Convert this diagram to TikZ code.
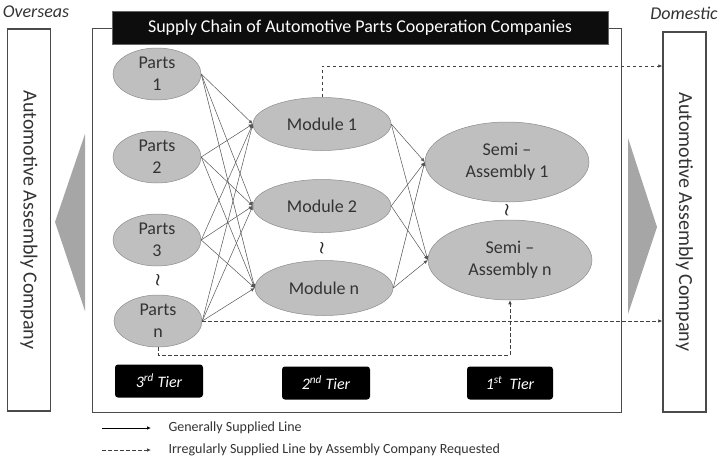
\documentclass[tikz,border=0pt]{standalone}
\usepackage{fontspec}
\setmainfont{Carlito}
\usetikzlibrary{arrows.meta,shapes.geometric,calc}

\definecolor{ellfill}{HTML}{BFBFBF}
\definecolor{elledge}{HTML}{8C8C8C}
\definecolor{wedge}{HTML}{A6A6A6}
\definecolor{feedline}{HTML}{555555}
\definecolor{frameline}{HTML}{4A4A4A}

\tikzset{
  blob/.style={ellipse, fill=ellfill, draw=elledge, line width=0.5pt,
    inner sep=0pt, align=center, text=black!80,
    font=\fontsize{18}{22}\selectfont},
  partnode/.style={blob, minimum width=88pt, minimum height=52pt},
  modnode/.style={blob, minimum width=138pt, minimum height=53pt},
  semnode/.style={blob, minimum width=164pt, minimum height=80pt},
  tiernode/.style={fill=black, rounded corners=3pt, text=white,
    minimum width=88pt, minimum height=33pt, inner sep=0pt,
    font=\fontsize{16}{18}\selectfont\itshape},
  feed/.style={draw=feedline, line width=0.5pt,
    -{Latex[length=4pt,width=3.5pt]}},
  irregular/.style={draw=black!75, line width=0.7pt,
    dash pattern=on 3.5pt off 2.5pt, -{Latex[length=4pt,width=3.5pt]}},
  companybox/.style={draw=frameline, line width=1.3pt, minimum width=43pt,
    minimum height=382pt, inner sep=0pt},
  sidelabel/.style={font=\fontsize{18}{20}\selectfont\itshape, text=black!80},
  gap/.style={font=\fontsize{17}{17}\selectfont\boldmath, text=black!85},
  legendtext/.style={anchor=west, font=\fontsize{14}{16}\selectfont, text=black!80},
}

\begin{document}
\begin{tikzpicture}[x=1pt, y=-1pt]
\useasboundingbox (0,0) rectangle (724,458);

% outer frame of the cooperation companies
\draw[frameline, line width=1pt] (92,28) rectangle (621,412);
\node[fill=black!95, draw=black!60, line width=0.6pt, minimum width=496pt,
  minimum height=33pt, inner sep=0pt, text=white,
  font=\fontsize{18}{20}\selectfont] (title) at (360,27.5)
  {Supply Chain of Automotive Parts Cooperation Companies};

% assembly companies on both sides
\node[sidelabel] (overseas) at (36,12) {Overseas};
\node[sidelabel] (domestic) at (684,13) {Domestic};
\node[companybox] (lbox) at (29,220) {};
\node[companybox, minimum height=380pt] (rbox) at (684.5,222) {};
\node[rotate=-90, font=\fontsize{20}{22}\selectfont, text=black!80] at (lbox) {Automotive Assembly Company};
\node[rotate=-90, font=\fontsize{20}{22}\selectfont, text=black!80] at (rbox) {Automotive Assembly Company};

% gray direction wedges
\fill[wedge] (85,134) -- (55,222) -- (85,311) -- cycle;
\fill[wedge] (628,138) -- (657,227) -- (628,314) -- cycle;

% 3rd tier parts
\node[partnode] (p1) at (157,74)  {Parts\\1};
\node[partnode] (p2) at (157,157) {Parts\\2};
\node[partnode] (p3) at (157,240) {Parts\\3};
\node[partnode] (pn) at (158,321) {Parts\\n};

% 2nd tier modules
\node[modnode] (m1) at (322,124) {Module 1};
\node[modnode] (m2) at (322,206) {Module 2};
\node[modnode, minimum height=55pt] (mn) at (324,288) {Module n};

% 1st tier semi-assemblies
\node[semnode] (s1) at (507,162) {Semi –\\Assembly 1};
\node[semnode] (sn) at (510,260) {Semi –\\Assembly n};

% omission marks
\node[gap] (g1) at (158,280) {$\wr$};
\node[gap] (g2) at (322,248) {$\wr$};
\node[gap] (g3) at (507,210) {$\wr$};

% general supply: parts to modules
\foreach \p in {p1,p2,p3,pn}
  \foreach \m in {m1,m2,mn}
    \draw[feed] (\p.east) -- (\m.west);

% general supply: modules to semi-assemblies
\foreach \m in {m1,m2,mn}
  \foreach \s in {s1,sn}
    \draw[feed] (\m.east) -- (\s.west);

% irregular supply lines
\coordinate (m1up) at (322,66);
\draw[irregular] (m1.north) -- (m1up) -- (rbox.west |- m1up);
\draw[irregular] (pn.east) -- (rbox.west |- pn.east);
\coordinate (pndown) at (158,355);
\draw[irregular] (pn.south) -- (pndown) -| (sn.south);

% tier labels
\node[tiernode] (t3) at (159,381) {3\textsuperscript{rd} Tier};
\node[tiernode] (t2) at (326,383) {2\textsuperscript{nd} Tier};
\node[tiernode, minimum width=86pt] (t1) at (510,383) {1\textsuperscript{st}\ \ Tier};

% legend
\node[legendtext] (lg1) at (165,428) {Generally Supplied Line};
\node[legendtext] (lg2) at (165,450) {Irregularly Supplied Line by Assembly Company Requested};
\coordinate (ls1) at (102,428);
\coordinate (ls2) at (102,450);
\draw[black, line width=0.7pt, -{Latex[length=4pt,width=3.5pt]}] (ls1) -- ([xshift=-14pt]lg1.west);
\draw[irregular] (ls2) -- ([xshift=-14pt]lg2.west);
\end{tikzpicture}
\end{document}
